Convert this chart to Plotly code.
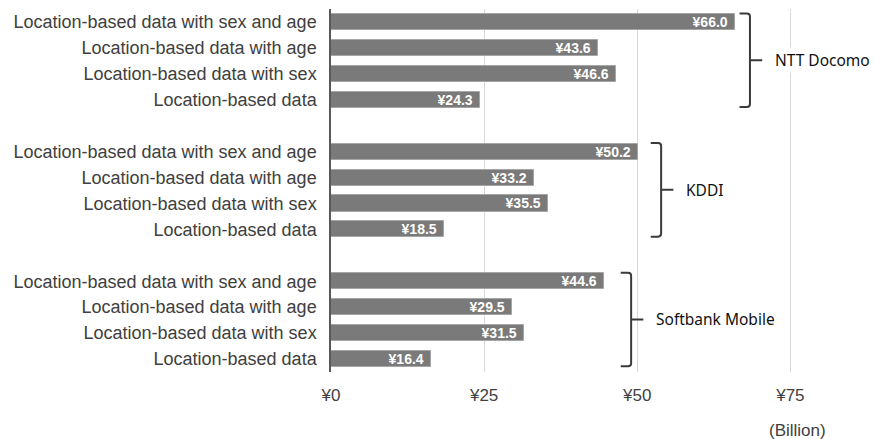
import plotly.graph_objects as go

categories = [
    "Location-based data with sex and age",
    "Location-based data with age",
    "Location-based data with sex",
    "Location-based data",
]
groups = ["NTT Docomo", "KDDI", "Softbank Mobile"]
docomo = [66.0, 43.6, 46.6, 24.3]
kddi = [50.2, 33.2, 35.5, 18.5]
softbank = [44.6, 29.5, 31.5, 16.4]
series = [docomo, kddi, softbank]
x_ticks = [0, 25, 50, 75]
x_tick_labels = ["¥0", "¥25", "¥50", "¥75"]
unit_label = "(Billion)"

# layout helpers (not data)
brace_gap = [0.7, 2.0, 2.7]
rows_per_group = len(categories) + 1
SANS = "Liberation Sans, Arial, sans-serif"

ys, xs, texts, tickvals, ticktext = [], [], [], [], []
for g, vals in enumerate(series):
    for i, v in enumerate(vals):
        r = g * rows_per_group + i
        ys.append(r)
        xs.append(v)
        texts.append(f"¥{v:.1f}\u00a0")
        tickvals.append(r)
        ticktext.append(categories[i])

fig = go.Figure()
fig.add_trace(go.Bar(
    x=xs, y=ys, orientation="h", width=0.62,
    marker=dict(color="#7a7a7a", line=dict(color="#a6a6a6", width=1)),
    text=texts, textposition="inside", insidetextanchor="end",
    textfont=dict(family=SANS, size=14, color="white", weight="bold"),
    constraintext="none", cliponaxis=False, showlegend=False,
))

shapes = []
annotations = []
for g, vals in enumerate(series):
    first = g * rows_per_group
    last = first + len(vals) - 1
    y0 = first - 0.33
    y1 = last + 0.28
    ym = (y0 + y1) / 2
    xa = max(vals) + brace_gap[g]
    xb = xa + 1.7
    xc = xb + 2.0
    c = 0.12
    cx = 0.5
    path = (
        f"M {xa},{y0} L {xb - cx},{y0} Q {xb},{y0} {xb},{y0 + c} "
        f"L {xb},{y1 - c} Q {xb},{y1} {xb - cx},{y1} L {xa},{y1} "
        f"M {xb},{ym} L {xc},{ym}"
    )
    shapes.append(dict(type="path", path=path, xref="x", yref="y",
                       line=dict(color="#3a3a3a", width=2)))
    annotations.append(dict(
        x=xc + 1.8, y=ym, xref="x", yref="y", text=groups[g], showarrow=False,
        xanchor="left", yanchor="middle", bgcolor="white",
        font=dict(family="Noto Sans, Open Sans", size=15.5, color="#111111"),
    ))

annotations.append(dict(
    x=0.865, y=-0.16, xref="paper", yref="paper", text=unit_label,
    showarrow=False, xanchor="center", yanchor="middle",
    font=dict(family=SANS, size=17, color="#404040"),
))

fig.update_layout(
    width=875, height=439,
    margin=dict(l=331, r=5, t=9, b=67),
    plot_bgcolor="white", paper_bgcolor="white",
    bargap=0,
    shapes=shapes, annotations=annotations,
    font=dict(family=SANS, size=17, color="#404040"),
    xaxis=dict(
        range=[0, 88], tickvals=x_ticks, ticktext=x_tick_labels,
        showgrid=True, gridcolor="#d9d9d9", gridwidth=1,
        zeroline=False, showline=False, ticks="",
        ticklabelstandoff=11,
        tickfont=dict(family=SANS, size=17, color="#404040"),
    ),
    yaxis=dict(
        range=[13.5, -0.5], tickvals=tickvals, ticktext=ticktext,
        showgrid=False, zeroline=False, showline=True,
        linecolor="#595959", linewidth=1.5, ticks="",
        ticklabelstandoff=9,
        tickfont=dict(family=SANS, size=18, color="#404040"),
    ),
)

fig.write_html("out.html")
